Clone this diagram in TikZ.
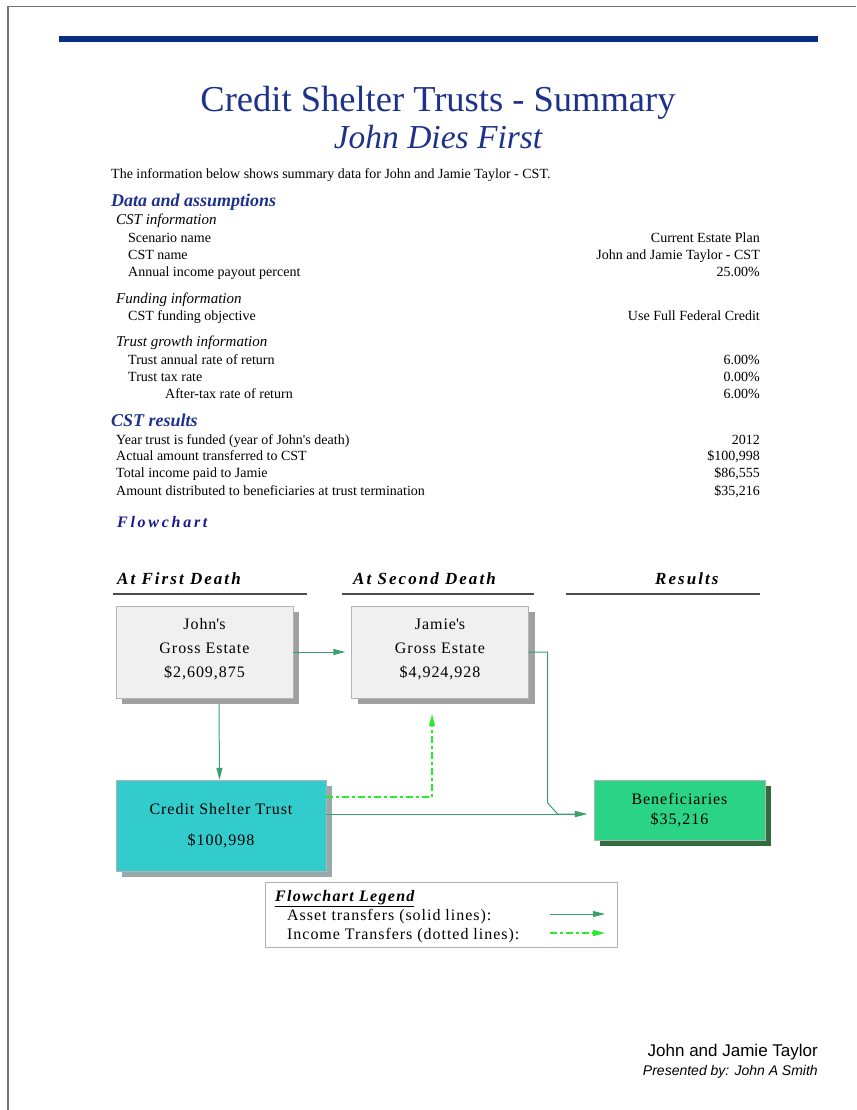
\documentclass[tikz,border=0pt]{standalone}
\usepackage{fontspec}
\setmainfont{Liberation Serif}
\setsansfont{Liberation Sans}
\usetikzlibrary{arrows.meta,shadows}

\definecolor{titleblue}{RGB}{30,50,140}
\definecolor{barblue}{RGB}{12,45,130}
\definecolor{flowblue}{RGB}{25,25,140}
\definecolor{assetgreen}{RGB}{60,160,110}
\definecolor{incomegreen}{RGB}{40,235,40}
\definecolor{estatefill}{RGB}{240,240,240}
\definecolor{estateshadow}{RGB}{160,160,160}
\definecolor{trustfill}{RGB}{51,204,204}
\definecolor{trustshadow}{RGB}{150,170,170}
\definecolor{benefill}{RGB}{42,211,133}
\definecolor{beneshadow}{RGB}{51,107,64}

\tikzset{
  body/.style={font=\fontsize{14}{17}\selectfont, inner sep=0pt, text height=10pt, text depth=3pt, yshift=-2pt},
  lab/.style={body, anchor=west},
  val/.style={body, anchor=east},
  subhead/.style={font=\fontsize{15}{18}\selectfont\itshape, inner sep=0pt, anchor=west, text height=10.5pt, text depth=3.5pt, yshift=-2pt},
  secthead/.style={font=\fontsize{18}{21}\selectfont\bfseries\itshape, text=titleblue, inner sep=0pt, anchor=west, text height=13pt, text depth=4pt, yshift=-2pt},
  colhead/.style={font=\fontsize{17}{20}\selectfont\bfseries\itshape\addfontfeature{LetterSpace=12}, inner sep=0pt, anchor=base west},
  boxtext/.style={font=\fontsize{16}{24}\selectfont\addfontfeature{LetterSpace=6}, align=center, inner sep=0pt},
  estatebox/.style={draw=estateshadow!80, fill=estatefill, minimum width=177pt, minimum height=92pt,
    drop shadow={shadow xshift=6pt, shadow yshift=-6pt, fill=estateshadow, opacity=1}},
  asset/.style={draw=assetgreen, line width=1pt, -{Triangle[length=12pt,width=6pt]}},
  income/.style={draw=incomegreen, line width=1.2pt, dash pattern=on 7pt off 3pt on 3pt off 3pt, -{Triangle[length=12pt,width=6pt]}},
  rule/.style={draw=black!70, line width=1.5pt}
}

\begin{document}
\begin{tikzpicture}[x=1pt,y=-1pt]
\useasboundingbox (0,0) rectangle (856,1110);
\fill[white] (0,0) rectangle (856,1110);

% page edge and top bar
\draw[black!55, line width=1.5pt] (8,1110) -- (8,6.5) -- (856,6.5);
\fill[barblue] (59,36) rectangle (818,42);

% title
\node[anchor=base, inner sep=0pt, text=titleblue, font=\fontsize{36.5}{40}\selectfont] (title) at (438,112) {Credit Shelter Trusts - Summary};
\node[anchor=base, inner sep=0pt, text=titleblue, font=\fontsize{33.5}{38}\selectfont\itshape] (subtitle) at (438,149) {John Dies First};

\node[lab] (intro) at (111,173) {The information below shows summary data for John and Jamie Taylor - CST.};

% data and assumptions
\node[secthead] (datahd) at (111,200) {Data and assumptions};
\node[subhead] (cstinfo) at (116,219) {CST information};
\node[lab] (scen) at (128,237) {Scenario name};
\node[val] (scenv) at (760,237) {Current Estate Plan};
\node[lab] (cstname) at (128,254) {CST name};
\node[val] (cstnamev) at (760,254) {John and Jamie Taylor - CST};
\node[lab] (payout) at (128,271) {Annual income payout percent};
\node[val] (payoutv) at (760,271) {25.00\%};

\node[subhead] (fundhd) at (116,298) {Funding information};
\node[lab] (objective) at (128,315) {CST funding objective};
\node[val] (objectivev) at (760,315) {Use Full Federal Credit};

\node[subhead] (growhd) at (116,341) {Trust growth information};
\node[lab] (ret) at (128,359) {Trust annual rate of return};
\node[val] (retv) at (760,359) {6.00\%};
\node[lab] (tax) at (128,376) {Trust tax rate};
\node[val] (taxv) at (760,376) {0.00\%};
\node[lab] (after) at (165,393) {After-tax rate of return};
\node[val] (afterv) at (760,393) {6.00\%};

% results
\node[secthead] (resulthd) at (111,420) {CST results};
\node[lab] (year) at (116,439) {Year trust is funded (year of John\textquotesingle s death)};
\node[val] (yearv) at (760,439) {2012};
\node[lab] (actual) at (116,455) {Actual amount transferred to CST};
\node[val] (actualv) at (760,455) {\$100,998};
\node[lab] (paid) at (116,472) {Total income paid to Jamie};
\node[val] (paidv) at (760,472) {\$86,555};
\node[lab] (dist) at (116,490) {Amount distributed to beneficiaries at trust termination};
\node[val] (distv) at (760,490) {\$35,216};

% flowchart
\node[secthead, text=flowblue, font=\fontsize{16}{20}\selectfont\bfseries\itshape\addfontfeature{LetterSpace=17}] (flowhd) at (117,521) {Flowchart};

\node[colhead] (first) at (117,584) {At First Death};
\node[colhead] (second) at (353,584) {At Second Death};
\node[colhead] (results) at (655,584) {Results};
\draw[rule] (113,594) -- (307,594);
\draw[rule] (342,594) -- (534,594);
\draw[rule] (566,594) -- (760,594);

\node[estatebox] (john) at (204.5,652) {};
\node[boxtext] (johntxt) at ([yshift=3pt]john.center) {John\textquotesingle s\\Gross Estate\\\$2,609,875};
\node[estatebox] (jamie) at (440,652) {};
\node[boxtext] (jamietxt) at ([yshift=3pt]jamie.center) {Jamie\textquotesingle s\\Gross Estate\\\$4,924,928};

\node[boxtext, font=\fontsize{16}{31}\selectfont\addfontfeature{LetterSpace=6}, draw=estateshadow!80, fill=trustfill,
  minimum width=210pt, minimum height=91pt,
  drop shadow={shadow xshift=6pt, shadow yshift=-6pt, fill=trustshadow, opacity=1}] (cst) at (221,825.5)
  {Credit Shelter Trust\\\$100,998};
\node[boxtext, font=\fontsize{16}{20}\selectfont\addfontfeature{LetterSpace=6}, draw=estateshadow!80, fill=benefill,
  minimum width=171pt, minimum height=60pt,
  drop shadow={shadow xshift=6pt, shadow yshift=-6pt, fill=beneshadow, opacity=1}] (bene) at (679.5,810)
  {Beneficiaries\\\$35,216};

% transfers
\draw[asset, shorten >=6pt] (john.east) -- (jamie.west);
\draw[asset] ([xshift=14.5pt,yshift=-6pt]john.south) -- ([xshift=-1.5pt]cst.north);
\draw[asset, shorten >=7pt] (jamie.east) -- ++(19,0) -- ++(0,151) -- ++(10,11) -- ([yshift=-4pt]bene.west);
\draw[asset, shorten >=7pt] ([yshift=11.5pt]cst.east) -- ([yshift=-4pt]bene.west);
\draw[income] ([yshift=28.5pt]cst.east) -| ([xshift=-8pt,yshift=-16pt]jamie.south);

% legend
\node[draw=black!30, line width=1pt, minimum width=352pt, minimum height=65pt] (legend) at (441,914.5) {};
\node[anchor=base west, inner sep=0pt, font=\fontsize{16}{20}\selectfont\bfseries\itshape\addfontfeature{LetterSpace=8}] (legendhd) at (275,901) {\underline{Flowchart Legend}};
\node[anchor=base west, inner sep=0pt, font=\fontsize{16}{20}\selectfont\addfontfeature{LetterSpace=6}] (assetlg) at (287,920) {Asset transfers (solid lines):};
\node[anchor=base west, inner sep=0pt, font=\fontsize{16}{20}\selectfont\addfontfeature{LetterSpace=6}] (incomelg) at (287,939) {Income Transfers (dotted lines):};
\coordinate (assetl) at (550,914);
\coordinate (assetr) at (605,914);
\coordinate (incomel) at (550,933);
\coordinate (incomer) at (605,933);
\draw[asset] (assetl) -- (assetr);
\draw[income] (incomel) -- (incomer);

% footer
\node[anchor=base east, inner sep=0pt, font=\sffamily\fontsize{17}{20}\selectfont] (client) at (818,1056) {John and Jamie Taylor};
\node[anchor=base east, inner sep=0pt, font=\sffamily\itshape\fontsize{14}{17}\selectfont] (presenter) at (818,1075) {Presented by: John A Smith};
\end{tikzpicture}
\end{document}
